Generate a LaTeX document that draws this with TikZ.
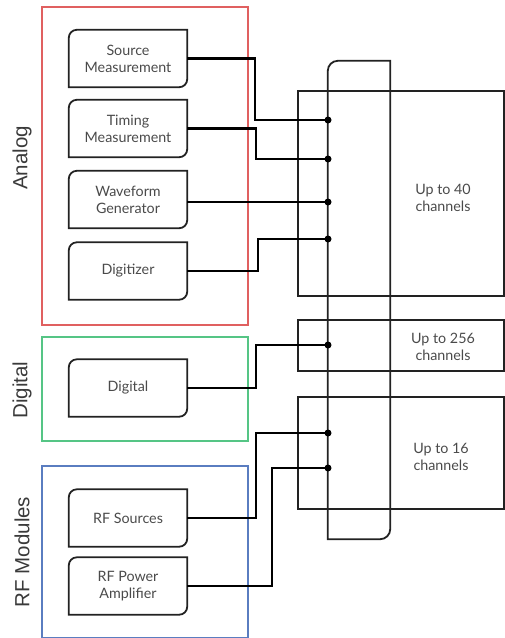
\documentclass[tikz,border=0pt]{standalone}
\usepackage{fontspec}
\setmainfont{Lato}
\newfontfamily\labelfont{Liberation Sans}
\definecolor{grpred}{HTML}{E06060}
\definecolor{grpgreen}{HTML}{55C585}
\definecolor{grpblue}{HTML}{5A7DC0}
\definecolor{txtgray}{HTML}{4A4A4A}
\definecolor{lblgray}{HTML}{3A3A3A}
\definecolor{edge}{HTML}{222222}
\begin{document}
\begin{tikzpicture}[x=1pt,y=-1pt,
  group/.style={draw, line width=1.5pt},
  modbox/.style={minimum width=118pt, minimum height=57pt, inner sep=0pt, align=center,
     text=txtgray, font=\fontsize{14.3}{17}\selectfont},
  boxline/.style={draw=edge, line width=1.8pt},
  chanbox/.style={draw=edge, line width=1.8pt},
  chantext/.style={text=txtgray, align=center, font=\fontsize{14.3}{17}\selectfont},
  sidelabel/.style={rotate=90, text=lblgray, font=\labelfont\fontsize{20.5}{24}\selectfont},
  wire/.style={draw=black, line width=2.7pt},
  junction/.style={circle, fill=black, inner sep=0pt, minimum size=7pt}
]
\useasboundingbox (0,0) rectangle (505,638);
% outline with rounded top-left and bottom-right corners; #1 = radius, #3 = control offset
\newcommand{\modoutline}[3]{%
  \draw[boxline] (#2.south west) -- ([yshift=-#1]#2.north west)
    .. controls ([yshift=-#3]#2.north west) and ([xshift=#3]#2.north west) .. ([xshift=#1]#2.north west)
    -- (#2.north east) -- ([yshift=#1]#2.south east)
    .. controls ([yshift=#3]#2.south east) and ([xshift=-#3]#2.south east) .. ([xshift=-#1]#2.south east) -- cycle;}

% group boxes
\node[group, draw=grpred, minimum width=206pt, minimum height=318pt, inner sep=0pt] (analog) at (145,166) {};
\node[group, draw=grpgreen, minimum width=206pt, minimum height=104pt, inner sep=0pt] (digitalgrp) at (145,389) {};
\node[group, draw=grpblue, minimum width=206pt, minimum height=172pt, inner sep=0pt] (rfgrp) at (145,552) {};

\node[sidelabel] (lanalog) at (22,158) {Analog};
\node[sidelabel] (ldigital) at (22,390) {Digital};
\node[sidelabel] (lrf) at (22,552) {RF Modules};

% channel boxes
\node[chanbox, minimum width=206pt, minimum height=205pt, inner sep=0pt] (ch40) at (401,193.5) {};
\node[chanbox, minimum width=206pt, minimum height=51pt, inner sep=0pt] (ch256) at (401,345.5) {};
\node[chanbox, minimum width=206pt, minimum height=112pt, inner sep=0pt] (ch16) at (401,453) {};
\node[chantext] (t40) at (443,198) {Up to 40\\channels};
\node[chantext] (t256) at (443,347) {Up to 256\\channels};
\node[chantext] (t16) at (441,457) {Up to 16\\channels};

% bus
\node[minimum width=62pt, minimum height=478pt, inner sep=0pt] (bus) at (359,300) {};
\modoutline{10pt}{bus}{4.5pt}

% modules
\node[modbox] (sm) at (128,58.5) {Source\\Measurement};
\node[modbox] (tm) at (128,128.5) {Timing\\Measurement};
\node[modbox] (wg) at (128,199.5) {Waveform\\Generator};
\node[modbox] (dz) at (128,271) {Digitizer};
\node[modbox] (dg) at (128,388) {Digital};
\node[modbox] (rs) at (128,518) {RF Sources};
\node[modbox] (rp) at (128,586) {RF Power\\Amplifier};
\foreach \m in {sm,tm,wg,dz,dg,rs,rp} {\modoutline{8pt}{\m}{3.6pt}}

% junctions
\node[junction] (j1) at (328,120) {};
\node[junction] (j2) at (328,159) {};
\node[junction] (j3) at (328,202) {};
\node[junction] (j4) at (328,239) {};
\node[junction] (j5) at (328,345) {};
\node[junction] (j6) at (328,433) {};
\node[junction] (j7) at (328,468) {};

% wires
\draw[wire] (sm.east) -| (255,120) -- (j1.center);
\draw[wire] (tm.east) -| (256,159) -- (j2.center);
\draw[wire] (wg.east |- j3) -- (j3.center);
\draw[wire] (dz.east) -| (258,239) -- (j4.center);
\draw[wire] (dg.east) -| (256,345) -- (j5.center);
\draw[wire] (rs.east) -| (256,433) -- (j6.center);
\draw[wire] (rp.east) -| (272,468) -- (j7.center);
\end{tikzpicture}
\end{document}
